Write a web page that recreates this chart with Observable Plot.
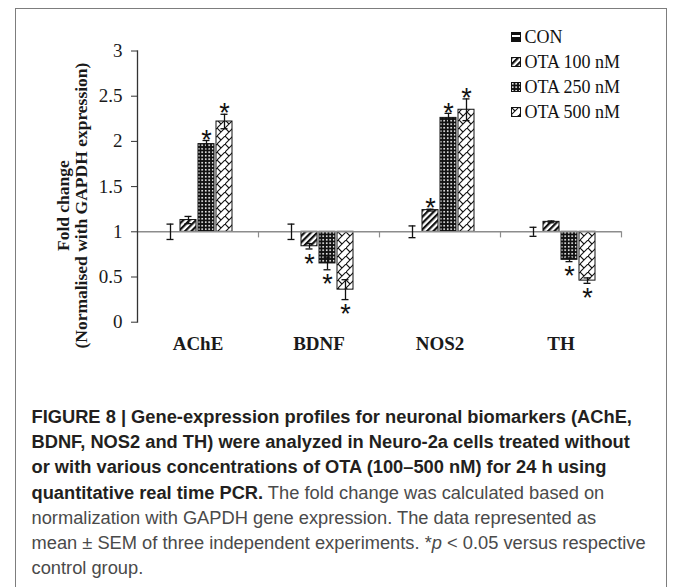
<!DOCTYPE html>
<html><head><meta charset="utf-8">
<script src="https://cdn.jsdelivr.net/npm/d3@7"></script>
<script src="https://cdn.jsdelivr.net/npm/@observablehq/plot@0.6"></script>
<style>
html,body{margin:0;padding:0;background:#fff;width:673px;height:587px;overflow:hidden;}
#frame{position:absolute;left:15px;top:8px;width:652px;height:640px;border:1.5px solid #7d7d7d;box-sizing:border-box;}
#chart{position:absolute;left:0;top:0;}
#legend{position:absolute;left:511px;top:24.5px;font-family:"Liberation Serif","Times New Roman",serif;font-size:18px;color:#111;}
#legend .row{height:25px;display:flex;align-items:center;white-space:nowrap;}
#legend svg{margin-right:3.5px;}
#caption{position:absolute;left:31.5px;top:404px;font-family:"Liberation Sans",Arial,sans-serif;font-size:18.3px;line-height:25.2px;color:#4a4a4a;white-space:nowrap;}
#caption b{color:#231f20;}
</style></head><body>
<svg width="0" height="0" style="position:absolute"><defs>
<pattern id="pCON" patternUnits="userSpaceOnUse" width="6" height="6"><rect width="6" height="6" fill="#111"/><rect y="3" width="6" height="2" fill="#fff"/></pattern>
<pattern id="p100" patternUnits="userSpaceOnUse" width="4.5" height="4.5" patternTransform="rotate(45)"><rect width="4.5" height="4.5" fill="#fff"/><rect width="2.2" height="4.5" fill="#111"/></pattern>
<pattern id="p250" patternUnits="userSpaceOnUse" width="3.5" height="3.5"><rect width="3.5" height="3.5" fill="#111"/><rect x="0.9" y="0.9" width="1.6" height="1.6" fill="#fff"/></pattern>
<pattern id="p500" patternUnits="userSpaceOnUse" width="8" height="8"><rect width="8" height="8" fill="#fff"/><path d="M-1,9 L9,-1 M0,0 L4,4" stroke="#111" stroke-width="1.1" fill="none"/></pattern>
</defs></svg>
<div id="frame"></div>
<div id="chart"></div>
<div id="legend"></div>
<div id="caption">
<div><b>FIGURE 8 | Gene-expression profiles for neuronal biomarkers (AChE,</b></div>
<div><b>BDNF, NOS2 and TH) were analyzed in Neuro-2a cells treated without</b></div>
<div><b>or with various concentrations of OTA (100–500 nM) for 24 h using</b></div>
<div><b>quantitative real time PCR.</b> The fold change was calculated based on</div>
<div>normalization with GAPDH gene expression. The data represented as</div>
<div>mean ± SEM of three independent experiments. *<i>p</i> &lt; 0.05 versus respective</div>
<div>control group.</div>
</div>
<script>
const genes = ["AChE", "BDNF", "NOS2", "TH"];
const series = ["CON", "OTA 100 nM", "OTA 250 nM", "OTA 500 nM"];
const fills = ["url(#pCON)", "url(#p100)", "url(#p250)", "url(#p500)"];
const yTicks = [0, 0.5, 1, 1.5, 2, 2.5, 3];
const yTitle = "Fold change\n(Normalised with GAPDH expression)";

// values per series, in gene order
const conValues    = [1, 1, 1, 1];
const ota100Values = [1.13, 0.84, 1.24, 1.11];
const ota250Values = [1.97, 0.65, 2.26, 0.69];
const ota500Values = [2.22, 0.36, 2.35, 0.46];
// SEM per series
const conErr    = [0.085, 0.085, 0.065, 0.05];
const ota100Err = [0.04, 0.03, 0.01, 0.01];
const ota250Err = [0.04, 0.07, 0.05, 0.02];
const ota500Err = [0.08, 0.11, 0.12, 0.03];
// significance (p < 0.05)
const conSig    = [0, 0, 0, 0];
const ota100Sig = [0, 1, 1, 0];
const ota250Sig = [1, 1, 1, 1];
const ota500Sig = [1, 1, 1, 1];

const allValues = [conValues, ota100Values, ota250Values, ota500Values];
const allErr = [conErr, ota100Err, ota250Err, ota500Err];
const allSig = [conSig, ota100Sig, ota250Sig, ota500Sig];

const rows = [];
genes.forEach((g, i) => series.forEach((s, j) => rows.push({
  gene: g, series: s, value: allValues[j][i], err: allErr[j][i], sig: allSig[j][i]
})));

const W = 673, H = 370, mT = 50.5, mB = 48.3, mL = 136, mR = 51, tickLen = 5;
const yScale = Plot.scale({y: {domain: [0, 3], range: [H - mB, mT]}});
const yOne = yScale.apply(1);

const chart = Plot.plot({
  width: W, height: H,
  marginTop: mT, marginBottom: mB, marginLeft: mL, marginRight: mR,
  style: {fontFamily: "'Liberation Serif','Times New Roman',serif", background: "transparent", color: "#1a1a1a"},
  fx: {domain: genes, padding: 0, label: null},
  x: {domain: series, paddingInner: 0.1, paddingOuter: 1.37, axis: null},
  y: {domain: [0, 3], axis: null},
  color: {domain: series, range: fills},
  marks: [
    Plot.barY(rows, {fx: "gene", x: "series", y1: () => 1, y2: "value", fill: "series", stroke: "#111", strokeWidth: 1}),
    Plot.ruleY([1], {stroke: "#8c8c8c", strokeWidth: 1.5}),
    Plot.frame({anchor: "right", insetTop: yOne - mT, insetBottom: (H - mB) - yOne - tickLen, stroke: "#8c8c8c", strokeWidth: 1.2}),
    Plot.frame({anchor: "left", facetAnchor: "left", stroke: "#333", strokeWidth: 1.3}),
    Plot.ruleX(rows, {fx: "gene", x: "series", y1: d => d.value - d.err, y2: d => d.value + d.err, stroke: "#111", strokeWidth: 1.3}),
    Plot.tickY(rows, {fx: "gene", x: "series", y: d => d.value + d.err, insetLeft: 4.5, insetRight: 4.5, stroke: "#111", strokeWidth: 1.3}),
    Plot.tickY(rows, {fx: "gene", x: "series", y: d => d.value - d.err, insetLeft: 4.5, insetRight: 4.5, stroke: "#111", strokeWidth: 1.3}),
    Plot.text(rows.filter(d => d.sig && d.value > 1), {fx: "gene", x: "series", y: d => d.value + d.err, text: () => "*", fontFamily: "'Liberation Sans',Arial,sans-serif", fontSize: 27, lineAnchor: "middle", dy: -0.5, fill: "#111"}),
    Plot.text(rows.filter(d => d.sig && d.value < 1), {fx: "gene", x: "series", y: d => d.value - d.err, text: () => "*", fontFamily: "'Liberation Sans',Arial,sans-serif", fontSize: 27, lineAnchor: "middle", dy: 15, fill: "#111"}),
    Plot.axisY({ticks: yTicks, tickFormat: d => String(d), tickSize: 6, tickPadding: 9, fontSize: 19, label: null, stroke: "#333"}),
    Plot.axisFx({anchor: "bottom", tickSize: 0, tickPadding: 14, fontSize: 19, fontWeight: "bold", label: null}),
    Plot.text([yTitle], {frameAnchor: "left", textAnchor: "middle", rotate: -90, dx: -65.5, dy: 19, fontWeight: "bold", fontSize: 17.5, lineHeight: 1.05, facetAnchor: "left", fill: "#1a1a1a"})
  ]
});
document.getElementById("chart").appendChild(chart);

// legend built from the series and fill arrays
const legend = d3.select("#legend");
series.forEach((s, j) => {
  const row = legend.append("div").attr("class", "row");
  const sw = row.append("svg").attr("width", 10).attr("height", 10);
  sw.append("rect").attr("x", 0.5).attr("y", 0.5).attr("width", 9).attr("height", 9)
    .attr("fill", fills[j]).attr("stroke", "#111").attr("stroke-width", 1);
  row.append("span").text(s);
});
</script>
</body></html>
